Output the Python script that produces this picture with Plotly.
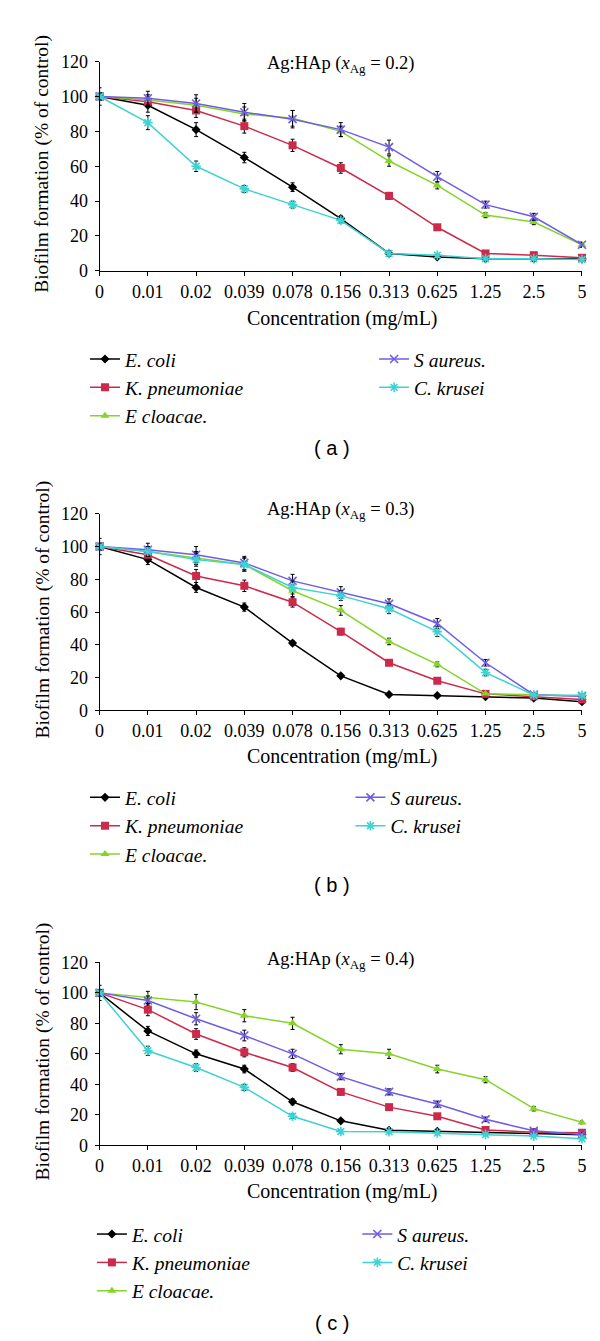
import plotly.graph_objects as go

W, H = 600, 1341

concentrations = ["0", "0.01", "0.02", "0.039", "0.078", "0.156", "0.313", "0.625", "1.25", "2.5", "5"]
species = ["E. coli", "K. pneumoniae", "E cloacae.", "S aureus.", "C. krusei"]

# Panel (a) Ag:HAp x=0.2
a_ecoli = [100, 95, 81, 65, 48, 30, 10, 8, 7, 7, 7]
a_kpneu = [100, 97, 92, 83, 72, 59, 43, 25, 10, 9, 7.5]
a_eclo = [100, 98, 95, 90, 87.5, 80, 63, 49, 32, 28, 15]
a_saur = [100, 99, 96, 91, 87, 81, 71, 54, 38, 31, 15]
a_ckru = [100, 85, 60, 47, 38, 29, 10, 9, 7, 7, 6.5]
a_ecoli_err = [5, 4, 4, 3, 2.5, 1.5, 1, 1, 0.8, 0.8, 0.8]
a_kpneu_err = [2, 3, 4, 4, 3.5, 3, 2, 1.5, 1.5, 1, 1]
a_eclo_err = [2, 3, 4, 4, 4.5, 3, 3, 2, 1.5, 1.5, 1]
a_saur_err = [2, 4, 5, 5, 5, 4, 4, 3, 2, 2, 1.5]
a_ckru_err = [2, 4, 3, 2, 2, 1.5, 1, 1, 0.5, 0.5, 0.5]

# Panel (b) Ag:HAp x=0.3
b_ecoli = [100, 92, 75, 63, 41, 21, 9.6, 9, 8.2, 7.4, 5.2]
b_kpneu = [100, 95, 82, 76, 66, 48, 29, 18, 10, 8.5, 6.6]
b_eclo = [100, 97, 93, 89, 73, 61, 42, 28, 10, 9.5, 8.5]
b_saur = [100, 98, 95, 90, 79, 72, 65, 53, 29, 9.5, 8.6]
b_ckru = [100, 97, 92, 89, 75, 70, 62, 48, 23, 9.3, 9.1]
b_ecoli_err = [5, 3, 3, 2.5, 1.5, 1, 0.8, 0.8, 0.8, 0.8, 0.8]
b_kpneu_err = [2, 3, 4, 3.5, 3, 2, 1.5, 1.5, 1, 1, 1]
b_eclo_err = [2, 3, 4, 4, 3.5, 3, 2, 1.5, 1, 1, 1]
b_saur_err = [2, 4, 5, 4, 4, 3.5, 3, 3, 2, 1, 1]
b_ckru_err = [2, 3, 4, 4, 4, 3, 3, 3, 2, 1, 1]

# Panel (c) Ag:HAp x=0.4
c_ecoli = [100, 75, 60, 50, 28.5, 16, 9.8, 9.2, 8.5, 7.7, 6.8]
c_kpneu = [100, 89, 73, 61, 51, 35, 25, 19, 10, 8.6, 8.2]
c_eclo = [100, 97, 94, 85, 80, 63, 60, 50, 43, 24, 15]
c_saur = [100, 95, 83, 72, 60, 45, 35, 27, 17, 9.5, 7.1]
c_ckru = [100, 62, 51, 38, 19, 9, 8.8, 8, 7.1, 6, 4.3]
c_ecoli_err = [5, 3, 2.5, 2.5, 2, 1, 1, 1, 0.8, 0.8, 0.8]
c_kpneu_err = [2, 4, 3.5, 3, 2.5, 2, 1.5, 1.5, 1, 1, 1]
c_eclo_err = [2, 4, 5, 4, 4, 3, 3, 2.5, 2, 1.5, 1]
c_saur_err = [2, 3, 4, 3.5, 3, 2, 2, 2, 1.5, 1, 1]
c_ckru_err = [2, 3, 2.5, 2, 1.5, 1, 1, 1, 0.8, 0.8, 0.8]

panel_titles = ["0.2", "0.3", "0.4"]
panel_labels = ["( a )", "( b )", "( c )"]
y_ticks = [0, 20, 40, 60, 80, 100, 120]

panels = [
    [(a_ecoli, a_ecoli_err), (a_kpneu, a_kpneu_err), (a_eclo, a_eclo_err), (a_saur, a_saur_err), (a_ckru, a_ckru_err)],
    [(b_ecoli, b_ecoli_err), (b_kpneu, b_kpneu_err), (b_eclo, b_eclo_err), (b_saur, b_saur_err), (b_ckru, b_ckru_err)],
    [(c_ecoli, c_ecoli_err), (c_kpneu, c_kpneu_err), (c_eclo, c_eclo_err), (c_saur, c_saur_err), (c_ckru, c_ckru_err)],
]

colors = ["#000000", "#cc2a4b", "#86d42a", "#6f5ce6", "#3fd2d2"]
symbols = ["diamond", "square", "triangle-up", "x-thin-open", "asterisk-open"]
msizes = [7, 8, 8, 8, 8]

SERIF = "Liberation Serif"
SANS = "Liberation Sans"


def xp(px):
    return px / W


def yp(py):
    return 1 - py / H


# pixel layout of each panel
layout_px = [
    dict(top=44.3, bottom=256.7, title_y=46.7, xtitle_y=305, leg_y=346.7, col1=89, col2=382, label_y=436.7),
    dict(top=503.3, bottom=702.7, title_y=500, xtitle_y=750, leg_y=791.7, col1=89, col2=358, label_y=880),
    dict(top=958.7, bottom=1144.3, title_y=956.7, xtitle_y=1191.7, leg_y=1235, col1=96, col2=365, label_y=1325),
]
X_LEFT, X_RIGHT = 88.8, 577.7

fig = go.Figure()
annotations = []
layout_updates = {}

for p, (series, lp) in enumerate(zip(panels, layout_px)):
    sfx = "" if p == 0 else str(p + 1)
    xa = "x" + sfx
    ya = "y" + sfx
    leg1 = "legend" if p == 0 else "legend" + str(2 * p + 1)
    leg2 = "legend" + str(2 * p + 2)
    for i, (vals, errs) in enumerate(series):
        sym = symbols[i]
        marker = dict(symbol=sym, size=msizes[i], color=colors[i])
        if sym.endswith("open"):
            marker["line"] = dict(color=colors[i], width=1.6)
        fig.add_trace(go.Scatter(
            x=concentrations, y=vals, xaxis=xa, yaxis=ya,
            mode="lines+markers",
            name="<i>" + species[i] + "</i>",
            line=dict(color=colors[i], width=1.5),
            marker=marker,
            error_y=dict(type="data", array=errs, visible=True, color="#000000", thickness=1, width=2),
            cliponaxis=False,
            legend=leg1 if i < 3 else leg2,
        ))

    layout_updates["xaxis" + sfx] = dict(
        domain=[xp(X_LEFT), xp(X_RIGHT)], anchor=ya, type="category",
        categoryorder="array", categoryarray=concentrations,
        range=[0, 10], showline=True, linecolor="#000000", linewidth=1.2,
        ticks="outside", ticklen=4, tickcolor="#000000", showgrid=False,
        tickfont=dict(family=SERIF, size=18, color="#000000"), zeroline=False,
    )
    layout_updates["yaxis" + sfx] = dict(
        domain=[yp(lp["bottom"]), yp(lp["top"])], anchor=xa,
        range=[0, 120], tickvals=y_ticks, showline=True, linecolor="#000000", linewidth=1.2,
        ticks="outside", ticklen=4, tickcolor="#000000", showgrid=False, zeroline=False,
        ticklabelstandoff=3,
        tickfont=dict(family=SERIF, size=18, color="#000000"),
    )
    for leg, col in ((leg1, lp["col1"]), (leg2, lp["col2"])):
        layout_updates[leg] = dict(
            x=xp(col - 15), y=yp(lp["leg_y"] - 20), xanchor="left", yanchor="top",
            font=dict(family=SERIF, size=19.5, color="#000000"), bgcolor="rgba(0,0,0,0)",
            itemwidth=30, tracegroupgap=0,
        )

    annotations.append(dict(
        text="Ag:HAp (<i>x</i><sub>Ag</sub> = " + panel_titles[p] + ")",
        x=xp(333), y=yp(lp["title_y"]), xref="paper", yref="paper",
        xanchor="center", yanchor="middle", showarrow=False,
        font=dict(family=SERIF, size=18.5, color="#000000"),
    ))
    annotations.append(dict(
        text="Concentration (mg/mL)", x=xp(335), y=yp(lp["xtitle_y"]),
        xref="paper", yref="paper", xanchor="center", yanchor="middle", showarrow=False,
        font=dict(family=SERIF, size=20, color="#000000"),
    ))
    annotations.append(dict(
        text="Biofilm formation (% of control)", x=xp(31), y=yp((lp["top"] + lp["bottom"]) / 2 - 2),
        xref="paper", yref="paper", xanchor="center", yanchor="middle", showarrow=False,
        textangle=-90, font=dict(family=SERIF, size=19.5, color="#000000"),
    ))
    annotations.append(dict(
        text=panel_labels[p], x=xp(324), y=yp(lp["label_y"]),
        xref="paper", yref="paper", xanchor="center", yanchor="middle", showarrow=False,
        font=dict(family=SANS, size=20, color="#000000"),
    ))

fig.update_layout(
    width=W, height=H, margin=dict(l=0, r=0, t=0, b=0),
    paper_bgcolor="#ffffff", plot_bgcolor="#ffffff",
    annotations=annotations, showlegend=True,
    **layout_updates,
)

fig.write_html("out.html")
